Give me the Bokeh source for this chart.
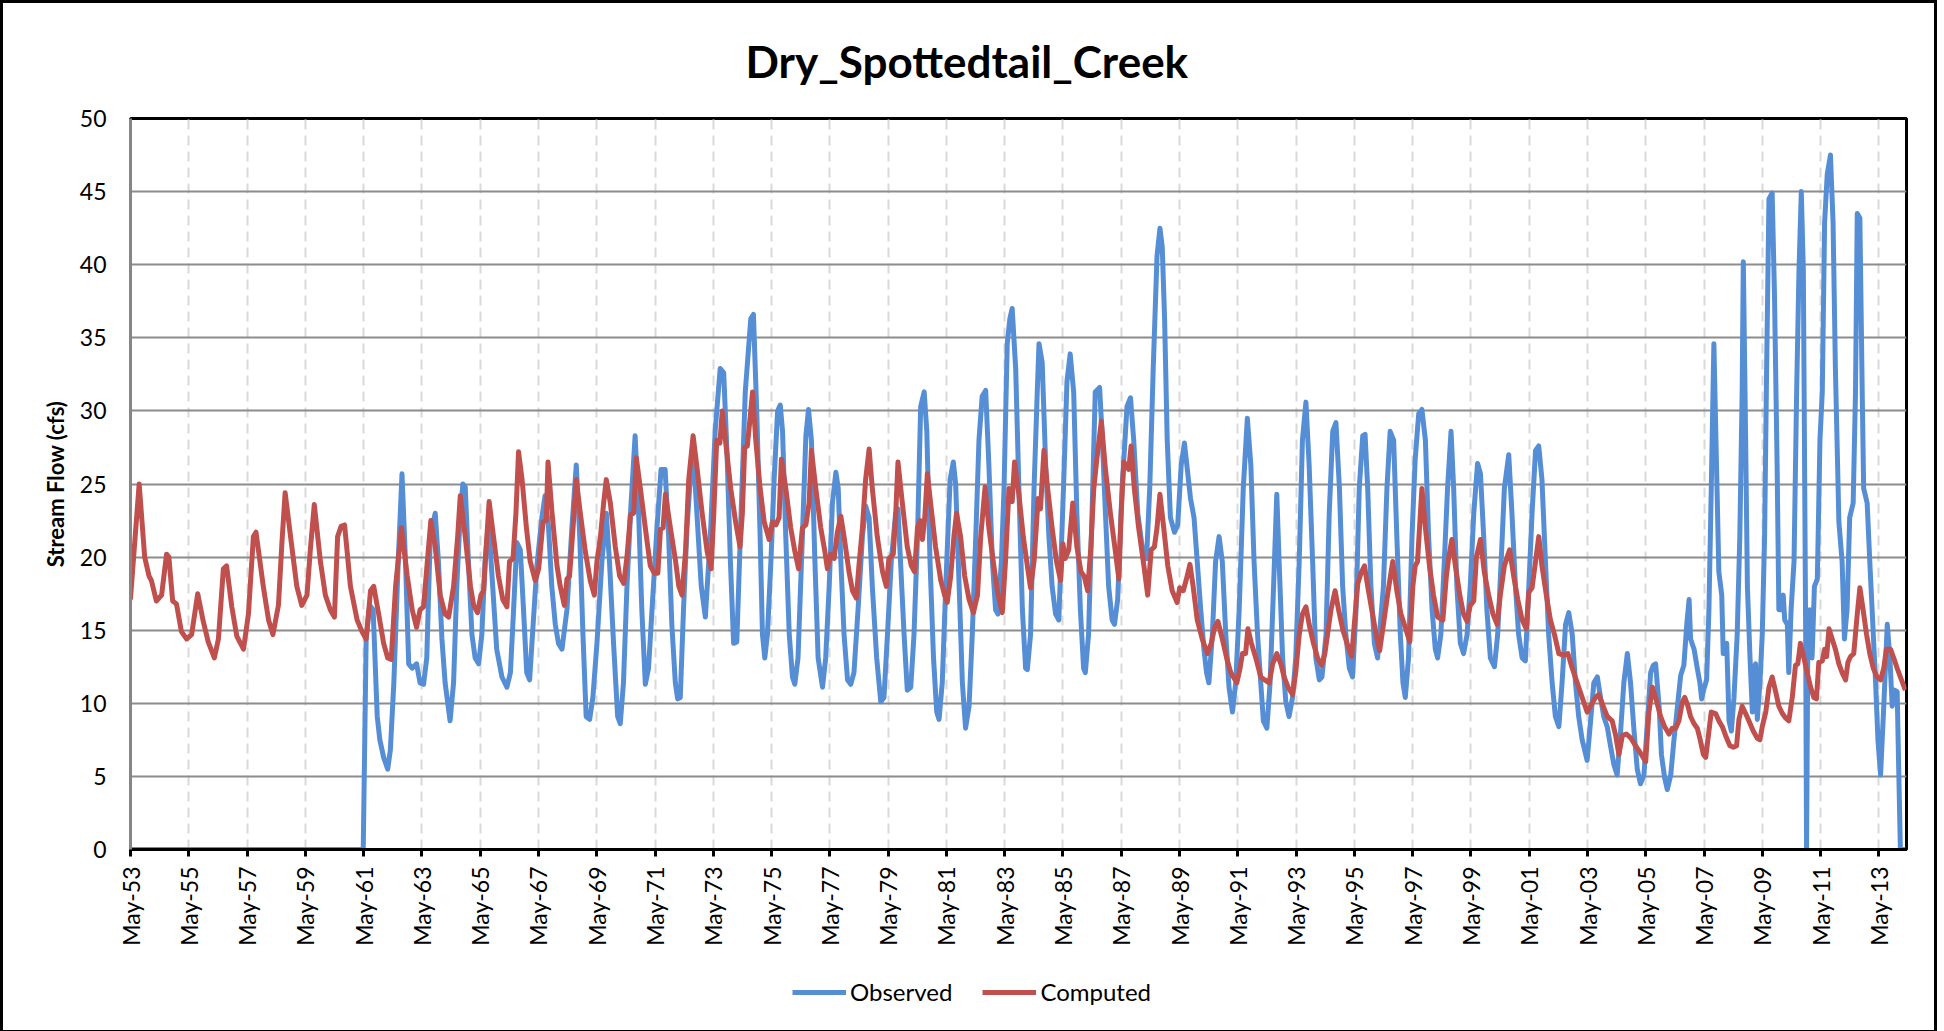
import math
from bokeh.plotting import figure
from bokeh.layouts import column
from bokeh.models import Range1d, FixedTicker, Legend, LegendItem, Title
from bokeh.embed import file_html
from bokeh.resources import INLINE

title_text = "Dry_Spottedtail_Creek"
y_label = "Stream Flow (cfs)"
series_names = ["Observed", "Computed"]

# x tick labels (May of every second year) and their positions in decimal years
tick_labels = ["May-53", "May-55", "May-57", "May-59", "May-61", "May-63", "May-65",
               "May-67", "May-69", "May-71", "May-73", "May-75", "May-77", "May-79",
               "May-81", "May-83", "May-85", "May-87", "May-89", "May-91", "May-93",
               "May-95", "May-97", "May-99", "May-01", "May-03", "May-05", "May-07",
               "May-09", "May-11", "May-13"]
tick_years = [1953 + 2 * i + 4 / 12 for i in range(len(tick_labels))]
y_ticks = [0, 5, 10, 15, 20, 25, 30, 35, 40, 45, 50]

# Observed stream flow (cfs) (decimal year, value)
obs_year = [1953.33, 1961.32, 1961.42, 1961.54, 1961.66, 1961.80, 1961.89, 1962.02, 1962.16, 1962.25,
            1962.37, 1962.52, 1962.65, 1962.77, 1962.88, 1963.00, 1963.15, 1963.27, 1963.39, 1963.50,
            1963.62, 1963.79, 1963.90, 1964.02, 1964.13, 1964.30, 1964.42, 1964.53, 1964.65, 1964.74,
            1964.82, 1964.93, 1965.05, 1965.16, 1965.28, 1965.39, 1965.50, 1965.62, 1965.73, 1965.90,
            1966.08, 1966.25, 1966.37, 1966.48, 1966.59, 1966.71, 1966.82, 1966.93, 1967.03, 1967.16,
            1967.28, 1967.45, 1967.56, 1967.68, 1967.79, 1967.91, 1968.02, 1968.14, 1968.31, 1968.48,
            1968.63, 1968.75, 1968.86, 1968.97, 1969.09, 1969.20, 1969.34, 1969.51, 1969.66, 1969.77,
            1969.91, 1970.05, 1970.14, 1970.25, 1970.37, 1970.50, 1970.65, 1970.77, 1970.88, 1971.00,
            1971.11, 1971.23, 1971.40, 1971.54, 1971.68, 1971.80, 1971.91, 1972.03, 1972.11, 1972.20,
            1972.31, 1972.43, 1972.54, 1972.66, 1972.77, 1972.92, 1973.06, 1973.23, 1973.40, 1973.57,
            1973.69, 1973.80, 1973.92, 1974.03, 1974.14, 1974.26, 1974.43, 1974.62, 1974.71, 1974.83,
            1974.94, 1975.02, 1975.10, 1975.19, 1975.31, 1975.42, 1975.54, 1975.63, 1975.71, 1975.82,
            1975.94, 1976.05, 1976.13, 1976.24, 1976.39, 1976.51, 1976.60, 1976.70, 1976.82, 1976.93,
            1977.08, 1977.19, 1977.31, 1977.42, 1977.54, 1977.62, 1977.71, 1977.82, 1977.94, 1978.05,
            1978.16, 1978.30, 1978.45, 1978.56, 1978.68, 1978.79, 1978.94, 1979.08, 1979.19, 1979.31,
            1979.44, 1979.59, 1979.67, 1979.88, 1979.99, 1980.11, 1980.22, 1980.34, 1980.45, 1980.57,
            1980.66, 1980.77, 1980.89, 1981.00, 1981.08, 1981.19, 1981.31, 1981.46, 1981.57, 1981.65,
            1981.77, 1981.88, 1981.99, 1982.11, 1982.22, 1982.34, 1982.45, 1982.56, 1982.68, 1982.79,
            1982.91, 1983.02, 1983.10, 1983.22, 1983.31, 1983.42, 1983.51, 1983.59, 1983.71, 1983.82,
            1983.94, 1984.05, 1984.11, 1984.22, 1984.34, 1984.45, 1984.51, 1984.62, 1984.74, 1984.85,
            1984.96, 1985.08, 1985.19, 1985.35, 1985.47, 1985.58, 1985.70, 1985.81, 1985.93, 1986.04,
            1986.10, 1986.21, 1986.33, 1986.44, 1986.59, 1986.67, 1986.79, 1986.90, 1987.02, 1987.10,
            1987.21, 1987.36, 1987.53, 1987.65, 1987.76, 1987.90, 1988.05, 1988.20, 1988.31, 1988.43,
            1988.56, 1988.66, 1988.74, 1988.82, 1988.91, 1989.02, 1989.16, 1989.27, 1989.39, 1989.50,
            1989.60, 1989.71, 1989.83, 1989.94, 1990.06, 1990.17, 1990.26, 1990.34, 1990.46, 1990.57,
            1990.69, 1990.80, 1990.92, 1991.03, 1991.15, 1991.26, 1991.38, 1991.52, 1991.66, 1991.78,
            1991.89, 1992.01, 1992.12, 1992.21, 1992.33, 1992.44, 1992.56, 1992.67, 1992.75, 1992.87,
            1992.98, 1993.09, 1993.21, 1993.32, 1993.44, 1993.55, 1993.67, 1993.78, 1993.90, 1994.01,
            1994.13, 1994.22, 1994.36, 1994.47, 1994.59, 1994.70, 1994.82, 1994.93, 1995.04, 1995.16,
            1995.27, 1995.39, 1995.50, 1995.62, 1995.70, 1995.79, 1995.90, 1996.02, 1996.13, 1996.33,
            1996.45, 1996.56, 1996.68, 1996.79, 1996.91, 1997.00, 1997.08, 1997.19, 1997.31, 1997.42,
            1997.54, 1997.65, 1997.77, 1997.88, 1998.00, 1998.11, 1998.19, 1998.30, 1998.42, 1998.53,
            1998.65, 1998.74, 1998.85, 1998.97, 1999.08, 1999.20, 1999.31, 1999.43, 1999.56, 1999.66,
            1999.77, 1999.88, 2000.00, 2000.14, 2000.25, 2000.37, 2000.48, 2000.63, 2000.74, 2000.86,
            2000.97, 2001.09, 2001.20, 2001.32, 2001.43, 2001.55, 2001.66, 2001.77, 2001.89, 2002.00,
            2002.12, 2002.23, 2002.35, 2002.46, 2002.58, 2002.69, 2002.81, 2002.92, 2003.03, 2003.15,
            2003.32, 2003.44, 2003.55, 2003.67, 2003.78, 2003.89, 2004.01, 2004.12, 2004.24, 2004.35,
            2004.47, 2004.58, 2004.70, 2004.81, 2004.93, 2005.04, 2005.15, 2005.27, 2005.39, 2005.50,
            2005.59, 2005.67, 2005.79, 2005.87, 2005.98, 2006.07, 2006.19, 2006.30, 2006.42, 2006.53,
            2006.64, 2006.74, 2006.82, 2006.87, 2006.99, 2007.10, 2007.19, 2007.25, 2007.33, 2007.42,
            2007.50, 2007.58, 2007.67, 2007.76, 2007.84, 2007.94, 2007.99, 2008.11, 2008.19, 2008.27,
            2008.36, 2008.47, 2008.56, 2008.64, 2008.68, 2008.76, 2008.82, 2008.91, 2008.99, 2009.04,
            2009.10, 2009.16, 2009.25, 2009.33, 2009.41, 2009.48, 2009.56, 2009.67, 2009.75, 2009.84,
            2009.90, 2009.98, 2010.05, 2010.10, 2010.19, 2010.24, 2010.32, 2010.42, 2010.51, 2010.59,
            2010.67, 2010.74, 2010.82, 2010.85, 2010.90, 2010.96, 2011.04, 2011.12, 2011.22, 2011.31,
            2011.39, 2011.47, 2011.56, 2011.67, 2011.76, 2011.84, 2011.96, 2012.07, 2012.15, 2012.24,
            2012.33, 2012.45, 2012.53, 2012.59, 2012.68, 2012.76, 2012.81, 2012.93, 2013.02, 2013.10,
            2013.22, 2013.30, 2013.39, 2013.50, 2013.62, 2013.71, 2013.79, 2013.87, 2013.96, 2014.02,
            2014.07, 2014.24]
obs_cfs = [0.0, 0.0, 14.4, 16.7, 16.4, 9.1, 7.5, 6.3, 5.5, 6.8,
           11.4, 19.7, 25.7, 19.7, 12.7, 12.4, 12.7, 11.4, 11.3, 13.1,
           21.4, 23.0, 19.7, 14.4, 11.4, 8.8, 11.4, 18.0, 23.0, 25.0,
           24.8, 19.7, 14.7, 13.1, 12.7, 14.7, 19.7, 22.4, 19.0, 13.7,
           11.8, 11.1, 12.1, 16.4, 21.0, 20.5, 16.4, 12.1, 11.6, 15.7,
           19.4, 22.7, 24.2, 22.0, 18.0, 15.4, 14.1, 13.7, 16.4, 22.0,
           26.3, 21.4, 14.7, 9.1, 8.9, 10.4, 14.1, 19.7, 23.0, 19.7,
           14.1, 9.1, 8.6, 11.4, 18.0, 23.3, 28.3, 23.0, 16.4, 11.3,
           12.4, 16.4, 22.0, 26.0, 26.0, 21.4, 15.4, 11.4, 10.3, 10.4,
           16.4, 22.0, 25.3, 26.7, 23.0, 18.0, 15.9, 21.4, 28.7, 32.9,
           32.6, 27.3, 19.7, 14.1, 14.2, 21.4, 31.3, 36.3, 36.6, 29.6,
           21.4, 14.7, 13.1, 14.7, 19.7, 25.3, 30.0, 30.4, 28.6, 21.4,
           14.7, 11.8, 11.3, 13.1, 21.4, 28.3, 30.1, 28.0, 19.7, 13.1,
           11.1, 13.1, 18.0, 23.7, 25.8, 24.7, 19.7, 14.7, 11.6, 11.3,
           12.1, 16.4, 21.4, 23.5, 22.7, 18.0, 13.1, 10.1, 10.4, 14.7,
           19.7, 23.0, 23.3, 14.7, 10.9, 11.1, 14.7, 21.4, 30.3, 31.3,
           28.6, 19.7, 13.1, 9.4, 8.9, 11.4, 18.0, 25.3, 26.5, 25.0,
           18.0, 11.4, 8.3, 9.8, 14.7, 21.4, 28.0, 31.0, 31.4, 26.3,
           19.7, 16.4, 16.1, 19.7, 24.7, 34.6, 36.3, 37.0, 32.9, 24.7,
           16.4, 12.4, 12.3, 14.7, 24.7, 31.3, 34.6, 33.3, 26.3, 21.4,
           18.0, 16.1, 15.7, 24.7, 32.0, 33.9, 31.3, 23.0, 16.4, 12.4,
           12.1, 14.7, 23.0, 31.3, 31.6, 28.6, 23.0, 18.0, 15.7, 15.4,
           17.1, 24.7, 30.3, 30.9, 28.0, 23.0, 20.7, 19.9, 24.7, 32.9,
           40.6, 42.5, 41.2, 36.3, 28.0, 22.7, 21.7, 22.2, 26.3, 27.8,
           26.0, 24.0, 22.7, 19.7, 16.4, 13.7, 12.1, 11.4, 14.7, 19.7,
           21.4, 19.7, 14.7, 11.1, 9.4, 11.4, 16.4, 24.7, 29.5, 26.3,
           19.7, 14.7, 11.4, 8.8, 8.3, 11.4, 18.0, 24.3, 19.7, 13.1,
           10.1, 9.1, 10.4, 13.1, 19.7, 28.0, 30.6, 26.3, 19.7, 13.1,
           11.6, 11.8, 14.7, 23.0, 28.6, 29.2, 24.7, 18.0, 14.7, 12.4,
           11.8, 16.4, 24.7, 28.3, 28.4, 24.7, 18.0, 14.1, 13.1, 18.0,
           24.7, 28.6, 28.0, 21.4, 14.7, 11.4, 10.4, 13.1, 21.4, 26.7,
           29.8, 30.1, 28.0, 21.4, 16.4, 13.7, 13.1, 14.7, 19.7, 24.7,
           28.6, 24.7, 18.0, 14.1, 13.4, 14.7, 18.0, 23.0, 26.4, 25.7,
           21.4, 16.4, 13.1, 12.5, 14.7, 19.7, 24.7, 27.0, 23.0, 18.0,
           14.7, 13.1, 12.9, 18.0, 23.0, 27.3, 27.6, 25.3, 19.7, 14.7,
           11.4, 9.1, 8.4, 11.4, 15.4, 16.2, 14.7, 11.4, 9.1, 7.5,
           6.1, 8.8, 11.4, 11.8, 10.4, 9.1, 8.4, 7.1, 5.8, 5.1,
           8.1, 11.4, 13.4, 11.4, 8.1, 5.5, 4.5, 5.1, 8.8, 12.1,
           12.6, 12.7, 9.8, 6.5, 4.9, 4.1, 5.1, 7.5, 9.8, 11.9,
           12.6, 15.4, 17.1, 14.4, 13.7, 12.4, 11.4, 10.3, 11.0, 11.6,
           16.4, 24.7, 34.6, 26.3, 19.0, 17.4, 13.4, 14.1, 8.8, 8.1,
           10.4, 14.7, 21.4, 31.3, 40.2, 28.0, 18.0, 13.1, 9.4, 12.4,
           12.7, 8.9, 11.4, 14.7, 21.4, 32.9, 44.5, 44.9, 37.9, 26.3,
           16.4, 16.4, 17.4, 15.7, 15.4, 12.1, 16.4, 19.7, 31.3, 39.6,
           45.0, 39.6, 14.7, 0.0, 16.1, 16.4, 13.1, 18.0, 18.5, 28.0,
           31.3, 42.9, 46.2, 47.5, 42.9, 32.9, 22.4, 19.7, 14.4, 16.4,
           22.7, 23.7, 31.3, 43.5, 43.2, 31.3, 24.7, 23.7, 19.7, 16.4,
           11.4, 7.5, 5.1, 9.8, 15.4, 13.1, 9.8, 10.9, 10.8, 4.8,
           0.0, 0.0]

# Computed stream flow (cfs) (decimal year, value)
cmp_year = [1953.33, 1953.63, 1953.82, 1953.97, 1954.05, 1954.22, 1954.40, 1954.57, 1954.65, 1954.78,
            1954.91, 1955.08, 1955.26, 1955.43, 1955.64, 1955.83, 1956.00, 1956.21, 1956.35, 1956.52,
            1956.63, 1956.81, 1956.98, 1957.21, 1957.38, 1957.55, 1957.64, 1957.89, 1958.07, 1958.22,
            1958.41, 1958.53, 1958.64, 1958.87, 1959.04, 1959.21, 1959.39, 1959.50, 1959.64, 1959.85,
            1960.02, 1960.19, 1960.33, 1960.44, 1960.56, 1960.68, 1960.88, 1961.11, 1961.28, 1961.42,
            1961.57, 1961.68, 1961.85, 1962.02, 1962.16, 1962.28, 1962.43, 1962.63, 1962.83, 1963.00,
            1963.15, 1963.27, 1963.39, 1963.52, 1963.64, 1963.79, 1963.96, 1964.13, 1964.25, 1964.42,
            1964.56, 1964.65, 1964.82, 1965.00, 1965.11, 1965.24, 1965.36, 1965.45, 1965.54, 1965.64,
            1965.79, 1965.96, 1966.11, 1966.25, 1966.34, 1966.46, 1966.56, 1966.65, 1966.77, 1966.92,
            1967.05, 1967.22, 1967.34, 1967.49, 1967.60, 1967.66, 1967.80, 1967.97, 1968.08, 1968.22,
            1968.31, 1968.40, 1968.52, 1968.63, 1968.77, 1968.94, 1969.11, 1969.25, 1969.34, 1969.46,
            1969.57, 1969.66, 1969.80, 1969.97, 1970.12, 1970.26, 1970.37, 1970.49, 1970.60, 1970.69,
            1970.83, 1971.00, 1971.17, 1971.31, 1971.43, 1971.52, 1971.61, 1971.69, 1971.86, 1972.04,
            1972.15, 1972.26, 1972.38, 1972.49, 1972.64, 1972.78, 1972.95, 1973.12, 1973.26, 1973.35,
            1973.45, 1973.56, 1973.64, 1973.75, 1973.93, 1974.10, 1974.25, 1974.33, 1974.41, 1974.50,
            1974.60, 1974.68, 1974.79, 1974.94, 1975.08, 1975.25, 1975.36, 1975.48, 1975.59, 1975.67,
            1975.82, 1975.99, 1976.13, 1976.26, 1976.39, 1976.51, 1976.62, 1976.70, 1976.85, 1977.02,
            1977.16, 1977.25, 1977.36, 1977.48, 1977.59, 1977.71, 1977.82, 1977.99, 1978.11, 1978.24,
            1978.33, 1978.45, 1978.56, 1978.68, 1978.79, 1978.96, 1979.14, 1979.27, 1979.36, 1979.51,
            1979.59, 1979.67, 1979.82, 1979.99, 1980.13, 1980.24, 1980.34, 1980.43, 1980.51, 1980.59,
            1980.68, 1980.79, 1980.96, 1981.14, 1981.27, 1981.36, 1981.48, 1981.59, 1981.68, 1981.82,
            1981.96, 1982.11, 1982.26, 1982.40, 1982.51, 1982.66, 1982.79, 1982.94, 1983.08, 1983.25,
            1983.36, 1983.48, 1983.59, 1983.67, 1983.82, 1983.97, 1984.11, 1984.22, 1984.34, 1984.48,
            1984.56, 1984.68, 1984.79, 1984.96, 1985.11, 1985.25, 1985.33, 1985.41, 1985.53, 1985.67,
            1985.81, 1985.95, 1986.06, 1986.18, 1986.29, 1986.39, 1986.50, 1986.65, 1986.79, 1986.96,
            1987.13, 1987.25, 1987.33, 1987.42, 1987.53, 1987.59, 1987.67, 1987.78, 1987.93, 1988.11,
            1988.24, 1988.36, 1988.47, 1988.56, 1988.66, 1988.79, 1988.93, 1989.08, 1989.25, 1989.34,
            1989.46, 1989.57, 1989.69, 1989.80, 1989.94, 1990.11, 1990.29, 1990.42, 1990.54, 1990.65,
            1990.80, 1990.95, 1991.09, 1991.30, 1991.41, 1991.49, 1991.60, 1991.68, 1991.80, 1991.95,
            1992.12, 1992.26, 1992.41, 1992.53, 1992.67, 1992.81, 1992.92, 1993.06, 1993.21, 1993.32,
            1993.44, 1993.55, 1993.67, 1993.78, 1993.93, 1994.07, 1994.21, 1994.32, 1994.41, 1994.53,
            1994.67, 1994.79, 1994.94, 1995.08, 1995.24, 1995.33, 1995.45, 1995.56, 1995.68, 1995.79,
            1995.93, 1996.08, 1996.20, 1996.33, 1996.47, 1996.65, 1996.79, 1996.93, 1997.08, 1997.23,
            1997.34, 1997.42, 1997.50, 1997.65, 1997.77, 1997.91, 1998.05, 1998.19, 1998.37, 1998.49,
            1998.57, 1998.68, 1998.80, 1998.95, 1999.08, 1999.20, 1999.31, 1999.43, 1999.52, 1999.66,
            1999.79, 1999.94, 2000.09, 2000.23, 2000.34, 2000.48, 2000.66, 2000.80, 2000.94, 2001.09,
            2001.23, 2001.32, 2001.43, 2001.55, 2001.66, 2001.77, 2001.92, 2002.06, 2002.20, 2002.35,
            2002.50, 2002.66, 2002.81, 2002.98, 2003.15, 2003.32, 2003.46, 2003.61, 2003.72, 2003.87,
            2004.01, 2004.18, 2004.30, 2004.41, 2004.53, 2004.67, 2004.83, 2004.98, 2005.15, 2005.33,
            2005.44, 2005.56, 2005.71, 2005.84, 2005.98, 2006.13, 2006.24, 2006.36, 2006.47, 2006.59,
            2006.67, 2006.78, 2006.87, 2006.99, 2007.10, 2007.19, 2007.31, 2007.39, 2007.50, 2007.58,
            2007.73, 2007.84, 2007.96, 2008.07, 2008.22, 2008.34, 2008.45, 2008.53, 2008.64, 2008.76,
            2008.87, 2009.02, 2009.16, 2009.25, 2009.33, 2009.45, 2009.56, 2009.67, 2009.79, 2009.90,
            2010.02, 2010.13, 2010.24, 2010.36, 2010.47, 2010.55, 2010.64, 2010.76, 2010.87, 2010.99,
            2011.10, 2011.19, 2011.27, 2011.39, 2011.47, 2011.54, 2011.62, 2011.73, 2011.84, 2011.96,
            2012.07, 2012.19, 2012.27, 2012.36, 2012.47, 2012.59, 2012.68, 2012.79, 2012.91, 2013.02,
            2013.14, 2013.27, 2013.39, 2013.50, 2013.59, 2013.73, 2013.84, 2013.96, 2014.07, 2014.24]
cmp_cfs = [17.1, 25.0, 20.0, 18.7, 18.4, 17.0, 17.4, 20.2, 20.0, 17.0,
           16.8, 14.9, 14.4, 14.7, 17.5, 15.6, 14.2, 13.1, 14.4, 19.2,
           19.4, 16.6, 14.6, 13.7, 16.1, 21.4, 21.7, 18.0, 15.7, 14.7,
           16.7, 21.0, 24.4, 20.7, 18.0, 16.7, 17.4, 20.4, 23.6, 19.7,
           17.4, 16.4, 15.9, 21.4, 22.1, 22.2, 18.0, 15.7, 14.9, 14.4,
           17.7, 18.0, 16.1, 14.1, 13.1, 13.0, 18.0, 22.0, 18.7, 16.4,
           15.2, 16.4, 16.6, 19.7, 22.5, 20.7, 17.4, 16.1, 15.9, 18.0,
           21.4, 24.2, 21.4, 18.0, 16.7, 16.2, 17.4, 17.7, 20.7, 23.8,
           21.4, 18.7, 17.1, 16.6, 19.7, 19.9, 23.0, 27.2, 25.3, 22.0,
           19.7, 18.4, 19.2, 22.4, 22.5, 26.5, 23.0, 19.4, 18.0, 16.7,
           18.5, 18.7, 22.0, 25.3, 23.0, 20.4, 18.4, 17.4, 19.7, 21.4,
           23.7, 25.3, 23.7, 20.7, 18.7, 18.2, 20.0, 22.9, 23.0, 26.8,
           24.7, 22.0, 19.4, 18.9, 18.9, 21.9, 22.0, 24.3, 22.0, 19.7,
           18.0, 17.4, 20.4, 25.3, 28.3, 26.0, 23.0, 20.4, 19.2, 23.0,
           28.0, 27.8, 30.0, 28.0, 24.7, 22.4, 20.7, 23.0, 27.5, 27.6,
           29.6, 31.3, 28.0, 24.7, 22.4, 21.2, 22.4, 22.2, 22.7, 26.7,
           24.7, 22.0, 20.4, 19.2, 22.0, 22.2, 23.7, 27.3, 24.7, 22.0,
           20.4, 19.2, 20.2, 19.9, 21.7, 22.8, 21.4, 19.0, 17.7, 17.2,
           19.4, 22.0, 25.3, 27.4, 24.7, 21.4, 19.0, 18.0, 19.9, 20.2,
           22.8, 26.5, 23.7, 20.7, 19.4, 19.0, 22.0, 22.5, 21.2, 22.7,
           25.7, 23.7, 20.7, 18.4, 17.4, 16.9, 18.7, 21.4, 23.0, 21.4,
           18.7, 17.1, 16.2, 17.4, 21.4, 24.8, 22.0, 19.7, 17.7, 16.2,
           19.7, 24.7, 23.8, 26.5, 24.3, 21.4, 19.4, 17.9, 19.7, 24.0,
           23.3, 27.3, 25.0, 22.0, 19.7, 18.4, 20.9, 19.9, 20.5, 23.7,
           20.7, 19.0, 18.7, 17.7, 20.7, 24.7, 26.8, 29.3, 26.0, 23.0,
           20.4, 18.5, 23.0, 26.5, 26.2, 26.0, 27.6, 24.7, 22.0, 19.4,
           17.4, 20.5, 20.7, 22.0, 24.3, 22.0, 19.4, 17.7, 16.9, 17.9,
           17.7, 18.5, 19.5, 18.0, 15.7, 14.4, 13.4, 14.1, 15.2, 15.6,
           14.4, 13.1, 12.1, 11.4, 12.4, 13.4, 13.4, 15.1, 14.1, 13.1,
           11.8, 11.6, 11.4, 12.7, 13.4, 12.7, 11.8, 11.1, 10.6, 12.1,
           14.7, 16.1, 16.6, 15.4, 14.1, 13.1, 12.6, 13.4, 14.7, 16.4,
           17.7, 16.4, 15.0, 14.1, 13.2, 15.4, 18.2, 18.9, 19.4, 18.0,
           16.4, 14.7, 13.6, 15.4, 17.4, 19.7, 17.7, 16.1, 15.2, 14.2,
           18.0, 19.4, 19.7, 24.7, 22.0, 19.4, 17.4, 15.9, 15.7, 18.7,
           20.0, 21.2, 19.4, 17.4, 16.1, 15.6, 16.7, 17.0, 20.0, 21.2,
           19.0, 17.4, 16.1, 15.4, 17.4, 19.4, 20.5, 18.7, 17.1, 15.7,
           15.1, 17.6, 17.9, 19.7, 21.4, 19.4, 17.4, 15.7, 14.7, 13.4,
           13.3, 13.4, 12.4, 11.4, 10.4, 9.4, 9.9, 10.4, 10.6, 9.8,
           9.1, 8.8, 7.8, 6.5, 7.8, 7.9, 7.6, 7.1, 6.6, 6.0,
           9.4, 11.1, 10.1, 9.1, 8.4, 7.9, 8.3, 8.3, 8.8, 10.1,
           10.4, 9.8, 9.1, 8.6, 8.3, 7.6, 6.5, 6.3, 8.1, 9.4,
           9.3, 8.8, 8.4, 7.8, 7.1, 7.0, 7.1, 8.9, 9.8, 9.3,
           8.8, 8.1, 7.6, 7.5, 8.4, 9.4, 11.1, 11.8, 10.8, 9.8,
           9.3, 9.0, 8.8, 10.4, 12.6, 12.7, 14.1, 13.1, 12.1, 11.1,
           10.4, 10.3, 12.8, 12.9, 13.7, 13.2, 15.1, 14.4, 13.7, 12.7,
           12.1, 11.6, 12.8, 13.2, 13.4, 16.1, 17.9, 16.4, 14.7, 13.4,
           12.4, 11.8, 11.6, 12.4, 13.7, 13.7, 13.1, 12.4, 11.8, 10.9]

OBS_COLOR = "#558ED5"
CMP_COLOR = "#C0504D"
FONT = "Lato"

# ---- main chart -------------------------------------------------------------
p = figure(width=1931, height=957, output_backend="svg", toolbar_location=None,
           x_range=Range1d(1953.333, 2014.28), y_range=Range1d(0, 50),
           min_border_left=127, min_border_right=28, min_border_top=115, min_border_bottom=111)
p.background_fill_color = "white"
p.border_fill_color = "white"
p.outline_line_color = "black"
p.outline_line_width = 3

p.title = Title(text=title_text, text_font=FONT, text_font_style="bold",
                text_font_size="44px", text_color="black", align="left",
                offset=615, standoff=61, vertical_align="middle")

p.ygrid.ticker = FixedTicker(ticks=y_ticks)
p.ygrid.grid_line_color = "#8c8c8c"
p.ygrid.grid_line_width = 2
p.xgrid.ticker = FixedTicker(ticks=tick_years)
p.xgrid.grid_line_color = "#d9d9d9"
p.xgrid.grid_line_width = 2
p.xgrid.grid_line_dash = "10 6"

p.yaxis.ticker = FixedTicker(ticks=y_ticks)
p.yaxis.axis_label = y_label
p.yaxis.axis_label_text_font = FONT
p.yaxis.axis_label_text_font_style = "bold"
p.yaxis.axis_label_text_font_size = "22px"
p.yaxis.axis_label_text_color = "black"
p.yaxis.axis_label_standoff = 8
p.yaxis.major_label_text_font = FONT
p.yaxis.major_label_text_font_size = "23px"
p.yaxis.major_label_text_color = "black"
p.yaxis.major_label_standoff = 24
p.yaxis.major_tick_out = 0
p.yaxis.major_tick_in = 0
p.yaxis.minor_tick_out = 0
p.yaxis.minor_tick_in = 0
p.yaxis.axis_line_color = "#868686"
p.yaxis.axis_line_width = 3

p.xaxis.ticker = FixedTicker(ticks=tick_years)
p.xaxis.major_label_overrides = {t: lab for t, lab in zip(tick_years, tick_labels)}
p.xaxis.major_label_orientation = math.pi / 2
p.xaxis.major_label_text_font = FONT
p.xaxis.major_label_text_font_size = "23px"
p.xaxis.major_label_text_color = "black"
p.xaxis.major_label_standoff = 10
p.xaxis.major_tick_out = 7
p.xaxis.major_tick_in = 0
p.xaxis.major_tick_line_color = "black"
p.xaxis.major_tick_line_width = 3
p.xaxis.minor_tick_out = 0
p.xaxis.minor_tick_in = 0
p.xaxis.axis_line_color = "black"
p.xaxis.axis_line_width = 3

p.line(obs_year, obs_cfs, line_color=OBS_COLOR, line_width=5, line_join="round")
p.line(cmp_year, cmp_cfs, line_color=CMP_COLOR, line_width=5, line_join="round")

# ---- legend strip under the chart -------------------------------------------
# the strip's own copies of the two series lie outside its (0..1) view; they only
# supply the legend's line swatches
leg = figure(width=1931, height=70, output_backend="svg", toolbar_location=None,
             x_range=Range1d(0, 1), y_range=Range1d(0, 1),
             x_axis_type=None, y_axis_type=None, min_border=0)
leg.outline_line_color = None
leg.background_fill_color = "white"
leg.border_fill_color = "white"
l_obs = leg.line(obs_year, obs_cfs, line_color=OBS_COLOR, line_width=5)
l_cmp = leg.line(cmp_year, cmp_cfs, line_color=CMP_COLOR, line_width=5)
legend = Legend(items=[LegendItem(label=series_names[0], renderers=[l_obs]),
                       LegendItem(label=series_names[1], renderers=[l_cmp])],
                orientation="horizontal", location=(662, 24),
                glyph_width=54, glyph_height=20, label_standoff=4, spacing=30,
                padding=0, margin=0, border_line_color=None, background_fill_alpha=0,
                label_text_font=FONT, label_text_font_size="24px", label_text_color="black")
leg.add_layout(legend)

layout = column(p, leg, spacing=0, styles={"border": "3px solid black"})

open("out.html", "w").write(file_html(layout, INLINE))
